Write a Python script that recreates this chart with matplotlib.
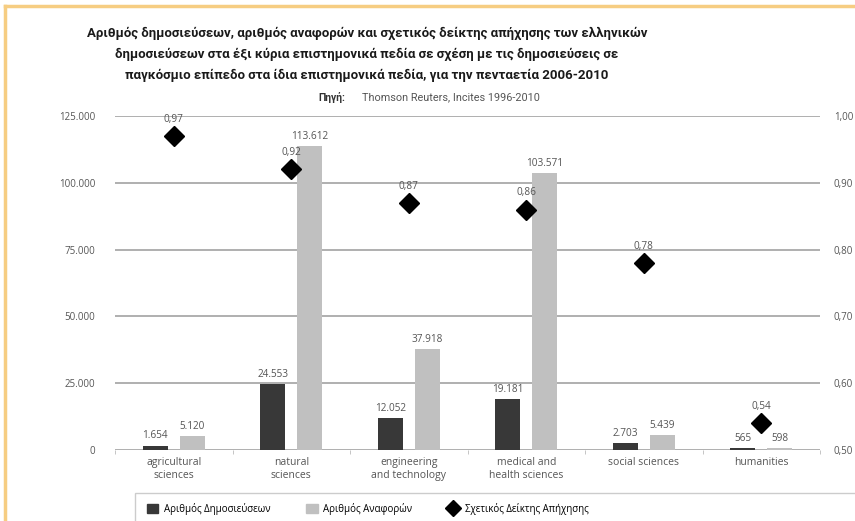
import matplotlib
matplotlib.use("Agg")
import matplotlib.pyplot as plt
import numpy as np
from matplotlib.lines import Line2D
from matplotlib.patches import Patch, Rectangle

categories = ["agricultural\nsciences", "natural\nsciences", "engineering\nand technology",
              "medical and\nhealth sciences", "social sciences", "humanities"]
publications = [1654, 24553, 12052, 19181, 2703, 565]
citations = [5120, 113612, 37918, 103571, 5439, 598]
impact = [0.97, 0.92, 0.87, 0.86, 0.78, 0.54]
left_ticks = [0, 25000, 50000, 75000, 100000, 125000]
right_ticks = [0.5, 0.6, 0.7, 0.8, 0.9, 1.0]

title = ("Αριθμός δημοσιεύσεων, αριθμός αναφορών και σχετικός δείκτης απήχησης των ελληνικών\n"
         "δημοσιεύσεων στα έξι κύρια επιστημονικά πεδία σε σχέση με τις δημοσιεύσεις σε\n"
         "παγκόσμιο επίπεδο στα ίδια επιστημονικά πεδία, για την πενταετία 2006-2010")
legend_labels = ["Αριθμός Δημοσιεύσεων", "Αριθμός Αναφορών", "Σχετικός Δείκτης Απήχησης"]

def dotfmt(v):
    return f"{v:,}".replace(",", ".")

def commafmt(v):
    return f"{v:.2f}".replace(".", ",")

TITLEF = ["Roboto", "DejaVu Sans"]
BODY = ["Open Sans", "Noto Sans", "DejaVu Sans"]

dark = "#383838"
light = "#c0c0c0"
txt = "#555555"

fig = plt.figure(figsize=(8.55, 5.21), dpi=100)
fig.patch.set_facecolor("white")

ax = fig.add_axes([115/855, 71/521, 705/855, 334/521])
ax2 = ax.twinx()

x = np.arange(len(categories))
w = 0.215
off = 0.158
b1 = ax.bar(x - off, publications, w, color=dark, zorder=3)
b2 = ax.bar(x + off, citations, w, color=light, zorder=3)

ax.set_xlim(-0.5, len(categories) - 0.5)
ax.set_ylim(0, 125000)
ax.set_yticks(left_ticks)
ax.set_yticklabels([dotfmt(v) for v in left_ticks], fontsize=7, color=txt, family=BODY)
ax.yaxis.grid(True, color="#9a9a9a", lw=1.1, zorder=0)
ax.set_axisbelow(True)
ax.tick_params(axis="y", length=0, pad=14)
ax.set_xticks(x)
ax.set_xticklabels(categories, fontsize=7.5, color=txt, family=BODY, linespacing=1.25)
ax.tick_params(axis="x", length=0, pad=5)
ax.set_xticks(np.arange(len(categories) + 1) - 0.5, minor=True)
ax.tick_params(axis="x", which="minor", length=3, color="#bbbbbb")
for s in ax.spines.values():
    s.set_visible(False)
for s in ax2.spines.values():
    s.set_visible(False)

for r, v in zip(b1, publications):
    ax.annotate(dotfmt(v), (r.get_x() + r.get_width()/2, v), xytext=(0, 3),
                textcoords="offset points", ha="center", va="bottom",
                fontsize=7.2, color=txt, family=BODY)
for r, v in zip(b2, citations):
    ax.annotate(dotfmt(v), (r.get_x() + r.get_width()/2, v), xytext=(0, 3),
                textcoords="offset points", ha="center", va="bottom",
                fontsize=7.2, color=txt, family=BODY)

ax2.set_ylim(0.5, 1.0)
ax2.set_yticks(right_ticks)
ax2.set_yticklabels([commafmt(v) for v in right_ticks], fontsize=7, color=txt, family=BODY)
ax2.tick_params(axis="y", length=0, pad=10)
ax2.plot(x, impact, linestyle="none", marker="D", ms=10.5, color="black", zorder=5)
for xi, v in zip(x, impact):
    ax2.annotate(commafmt(v), (xi, v), xytext=(0, 8), textcoords="offset points",
                 ha="center", va="bottom", fontsize=7.2, color=txt, family=BODY)

fig.text(367/855, 1 - 27/521, title, ha="center", va="top", fontsize=9.5,
         fontweight="bold", color="#1a1a1a", family=TITLEF, linespacing=1.75)
fig.text(345/855, 1 - 97/521, "Πηγή:", ha="right", va="center", fontsize=7.5,
         fontweight="bold", color="#333333", family=TITLEF)
fig.text(362/855, 1 - 97/521, "Thomson Reuters, Incites 1996-2010", ha="left",
         va="center", fontsize=7.8, color="#555555", family=TITLEF)

handles = [Patch(color=dark), Patch(color=light),
           Line2D([], [], marker="D", linestyle="none", color="black", ms=8)]
fig.legend(handles, legend_labels, loc="center left", bbox_to_anchor=(138/855, 12/521),
           ncol=3, frameon=False, handlelength=1.2, handleheight=1.0,
           handletextpad=0.6, columnspacing=3.6, prop={"family": BODY, "size": 7})

fig.patches.append(Rectangle((135/855, -0.05), 1.0, 28/521 + 0.05, transform=fig.transFigure,
                             fill=False, edgecolor="#cccccc", lw=1.0))
fig.add_artist(Line2D([5/855, 5/855], [0, 1 - 6/521], transform=fig.transFigure,
                      color="#f6cd82", lw=2.5))
fig.add_artist(Line2D([5/855, 1], [1 - 6/521, 1 - 6/521], transform=fig.transFigure,
                      color="#f6cd82", lw=2.5))

fig.savefig("out.png", dpi=100)
